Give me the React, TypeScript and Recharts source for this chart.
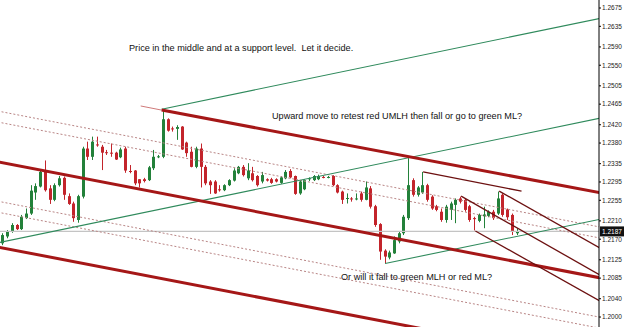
import { ComposedChart, Bar, XAxis, YAxis, ReferenceLine } from 'recharts'

// EURUSD-style candles (oldest first)
const opens = [
  1.2161, 1.2176, 1.2186, 1.2201, 1.2192, 1.2216, 1.2226, 1.2272, 1.2285, 1.2319,
  1.2281, 1.2256, 1.2288, 1.2304, 1.2264, 1.2248, 1.2212, 1.2263, 1.2368, 1.2350,
  1.2377, 1.2372, 1.2360, 1.2359, 1.2359, 1.2349, 1.2368, 1.2319, 1.2320, 1.2301,
  1.2301, 1.2299, 1.2325, 1.2350, 1.2350, 1.2432, 1.2412, 1.2411, 1.2416, 1.2381,
  1.2361, 1.2328, 1.2368, 1.2328, 1.2296, 1.2296, 1.2279, 1.2277, 1.2288, 1.2298,
  1.2314, 1.2328, 1.2303, 1.2314, 1.2308, 1.2296, 1.2301, 1.2301, 1.2301, 1.2293,
  1.2303, 1.2319, 1.2308, 1.2270, 1.2279, 1.2301, 1.2299, 1.2301, 1.2306, 1.2305,
  1.2308, 1.2288, 1.2274, 1.2259, 1.2259, 1.2258, 1.2270, 1.2256, 1.2281, 1.2242,
  1.2203, 1.2145, 1.2130, 1.2139, 1.2165, 1.2183, 1.2216, 1.2299, 1.2267, 1.2272,
  1.2288, 1.2263, 1.2242, 1.2230, 1.2212, 1.2234, 1.2245, 1.2259, 1.2256, 1.2242,
  1.2216, 1.2210, 1.2220, 1.2221, 1.2230, 1.2226, 1.2267, 1.2235, 1.2223, 1.2183,
]
const highs = [
  1.2183, 1.2190, 1.2205, 1.2203, 1.2223, 1.2237, 1.2288, 1.2292, 1.2321, 1.2342,
  1.2288, 1.2292, 1.2308, 1.2307, 1.2270, 1.2252, 1.2267, 1.2372, 1.2383, 1.2394,
  1.2394, 1.2376, 1.2365, 1.2379, 1.2361, 1.2370, 1.2372, 1.2332, 1.2321, 1.2301,
  1.2304, 1.2330, 1.2365, 1.2354, 1.2454, 1.2434, 1.2416, 1.2419, 1.2417, 1.2383,
  1.2372, 1.2372, 1.2379, 1.2332, 1.2299, 1.2299, 1.2288, 1.2290, 1.2301, 1.2325,
  1.2330, 1.2332, 1.2336, 1.2328, 1.2310, 1.2317, 1.2303, 1.2304, 1.2303, 1.2308,
  1.2321, 1.2323, 1.2309, 1.2299, 1.2301, 1.2305, 1.2310, 1.2311, 1.2308, 1.2308,
  1.2310, 1.2290, 1.2276, 1.2270, 1.2262, 1.2270, 1.2274, 1.2296, 1.2286, 1.2245,
  1.2205, 1.2148, 1.2145, 1.2176, 1.2186, 1.2223, 1.2347, 1.2303, 1.2286, 1.2317,
  1.2291, 1.2266, 1.2245, 1.2237, 1.2245, 1.2252, 1.2259, 1.2263, 1.2259, 1.2245,
  1.2219, 1.2226, 1.2241, 1.2233, 1.2234, 1.2274, 1.2270, 1.2237, 1.2226, 1.2194,
]
const lows = [
  1.2157, 1.2172, 1.2184, 1.2190, 1.2190, 1.2214, 1.2223, 1.2256, 1.2283, 1.2274,
  1.2247, 1.2253, 1.2285, 1.2256, 1.2245, 1.2208, 1.2206, 1.2259, 1.2343, 1.2343,
  1.2372, 1.2321, 1.2354, 1.2350, 1.2343, 1.2347, 1.2315, 1.2314, 1.2288, 1.2283,
  1.2294, 1.2297, 1.2321, 1.2347, 1.2347, 1.2405, 1.2405, 1.2387, 1.2365, 1.2350,
  1.2327, 1.2325, 1.2283, 1.2288, 1.2269, 1.2269, 1.2274, 1.2275, 1.2286, 1.2296,
  1.2312, 1.2307, 1.2299, 1.2296, 1.2285, 1.2292, 1.2296, 1.2291, 1.2294, 1.2291,
  1.2301, 1.2303, 1.2267, 1.2267, 1.2277, 1.2297, 1.2297, 1.2299, 1.2303, 1.2303,
  1.2286, 1.2270, 1.2247, 1.2248, 1.2252, 1.2255, 1.2252, 1.2255, 1.2237, 1.2197,
  1.2125, 1.2117, 1.2126, 1.2138, 1.2161, 1.2179, 1.2212, 1.2263, 1.2263, 1.2269,
  1.2252, 1.2234, 1.2231, 1.2208, 1.2206, 1.2212, 1.2205, 1.2248, 1.2230, 1.2208,
  1.2189, 1.2207, 1.2194, 1.2218, 1.2212, 1.2223, 1.2219, 1.2212, 1.2179, 1.2179,
]
const closes = [
  1.2179, 1.2186, 1.2201, 1.2192, 1.2219, 1.2226, 1.2276, 1.2286, 1.2317, 1.2277,
  1.2256, 1.2288, 1.2303, 1.2267, 1.2247, 1.2216, 1.2264, 1.2368, 1.2350, 1.2383,
  1.2375, 1.2359, 1.2358, 1.2358, 1.2344, 1.2366, 1.2320, 1.2318, 1.2292, 1.2292,
  1.2297, 1.2327, 1.2350, 1.2351, 1.2432, 1.2407, 1.2411, 1.2415, 1.2366, 1.2358,
  1.2328, 1.2368, 1.2328, 1.2292, 1.2288, 1.2270, 1.2278, 1.2288, 1.2299, 1.2320,
  1.2328, 1.2310, 1.2320, 1.2299, 1.2288, 1.2310, 1.2298, 1.2293, 1.2296, 1.2305,
  1.2317, 1.2305, 1.2269, 1.2296, 1.2299, 1.2303, 1.2308, 1.2308, 1.2305, 1.2306,
  1.2288, 1.2272, 1.2256, 1.2260, 1.2258, 1.2259, 1.2256, 1.2283, 1.2241, 1.2201,
  1.2143, 1.2132, 1.2141, 1.2168, 1.2183, 1.2219, 1.2288, 1.2267, 1.2283, 1.2288,
  1.2256, 1.2237, 1.2234, 1.2212, 1.2241, 1.2248, 1.2256, 1.2252, 1.2234, 1.2212,
  1.2215, 1.2223, 1.2224, 1.2230, 1.2216, 1.2259, 1.2223, 1.2218, 1.2186, 1.2187,
]

const priceTicks = [
  1.2, 1.204, 1.2085, 1.2125, 1.217, 1.221, 1.2255, 1.2295, 1.2335,
  1.238, 1.242, 1.2465, 1.2505, 1.255, 1.259, 1.2635, 1.2675,
]
const lastPrice = 1.2187

// pitchfork / channel lines: [barIndex, price] -> [barIndex, price]
const greenLines = [
  [34, 1.2454, 126.5, 1.2653],
  [-0.5, 1.2162, 126.5, 1.2435],
  [81, 1.2117, 126.5, 1.2214],
]
const redLines = [
  [34, 1.2452, 126.5, 1.2271],
  [-0.5, 1.2339, 126.5, 1.2085],
  [-0.5, 1.2153, 126.5, 1.1899],
]
const handleLines = [[29.6, 1.2461, 34, 1.2452]]
const dashedLines = [
  [-0.5, 1.2450, 126.5, 1.2196],
  [-0.5, 1.2426, 126.5, 1.2172],
  [-0.5, 1.2253, 126.5, 1.1999],
  [-0.5, 1.2229, 126.5, 1.1975],
]
const maroonLines = [
  [89, 1.2317, 109.7, 1.2275],
  [97, 1.2264, 126.5, 1.2090],
  [105, 1.2275, 126.5, 1.2149],
  [100, 1.2188, 126.5, 1.2033],
]

const SLOTS = 127
const GREEN = '#23813a'
const RED = '#c3242b'

const data = Array.from({ length: SLOTS }, (_, i) =>
  i < opens.length
    ? { i, open: opens[i], high: highs[i], low: lows[i], close: closes[i] }
    : { i }
)

function Candle(props: any) {
  const { x, y, width, height, payload } = props
  if (!payload || payload.high == null || !height) return null
  const { open, close, high, low } = payload
  const k = height / (high - low)
  const cx = Math.round(x + width / 2) + 0.5
  const color = close >= open ? GREEN : RED
  const top = y + (high - Math.max(open, close)) * k
  const h = Math.max(1, Math.abs(open - close) * k)
  return (
    <g>
      <line x1={cx} x2={cx} y1={y} y2={y + height} stroke={color} strokeWidth={1} />
      <rect x={cx - 1.5} y={top} width={3} height={h} fill={color} />
    </g>
  )
}

function PriceTag(props: any) {
  const { viewBox } = props
  const x = viewBox.x + viewBox.width + 1
  const y = viewBox.y
  return (
    <g>
      <rect x={x} y={y - 5} width={24} height={10} fill="#111" />
      <text x={x + 2} y={y + 3} fontSize={6.5} fill="#fff" fontFamily="Arial, 'Liberation Sans'">
        {lastPrice.toFixed(4)}
      </text>
    </g>
  )
}

function seg(l: number[], key: string, stroke: string, width: number, dash?: string) {
  return (
    <ReferenceLine
      key={key}
      xAxisId="n"
      segment={[{ x: l[0], y: l[1] }, { x: l[2], y: l[3] }]}
      stroke={stroke}
      strokeWidth={width}
      strokeDasharray={dash}
      ifOverflow="hidden"
    />
  )
}

const note = {
  position: 'absolute' as const,
  fontSize: 9.15,
  lineHeight: '10px',
  color: '#111',
  whiteSpace: 'pre' as const,
  fontFamily: 'Arial, "Liberation Sans", sans-serif',
}

export default function App() {
  return (
    <div style={{ position: 'absolute', left: 0, top: 0, width: 625, height: 327, background: '#fff' }}>
      <ComposedChart width={625} height={327} data={data} margin={{ top: 0, right: 0, bottom: 0, left: 0 }}>
        <XAxis dataKey="i" hide />
        <XAxis xAxisId="n" type="number" domain={[-0.5, 126.5]} hide allowDataOverflow />
        <YAxis
          orientation="right"
          width={26}
          domain={[1.19782, 1.26925]}
          ticks={priceTicks}
          interval={0}
          allowDataOverflow
          tickFormatter={(v: number) => v.toFixed(4)}
          tick={{ fontSize: 6.5, fill: '#222', fontFamily: 'Arial, "Liberation Sans"' }}
          tickSize={2}
          tickMargin={1}
          axisLine={{ stroke: '#000' }}
          tickLine={{ stroke: '#000' }}
        />
        <ReferenceLine y={lastPrice} stroke="#c4c4c4" strokeWidth={1.2} label={<PriceTag />} />
        {dashedLines.map((l, k) => seg(l, 'd' + k, '#b98585', 1, '2 2'))}
        {greenLines.map((l, k) => seg(l, 'g' + k, '#2f8a5c', 1.1))}
        {handleLines.map((l, k) => seg(l, 'h' + k, '#d07a7a', 1))}
        {redLines.map((l, k) => seg(l, 'r' + k, '#a51717', 3))}
        {maroonLines.map((l, k) => seg(l, 'm' + k, '#6c1010', 1.3))}
        <Bar
          dataKey={(d: any) => (d.high == null ? null : [d.low, d.high])}
          shape={<Candle />}
          isAnimationActive={false}
        />
      </ComposedChart>
      <div style={{ ...note, left: 129, top: 43 }}>Price in the middle and at a support level.  Let it decide.</div>
      <div style={{ ...note, left: 272, top: 111 }}>Upward move to retest red UMLH then fall or go to green ML?</div>
      <div style={{ ...note, left: 341, top: 272 }}>Or will it fall to green MLH or red ML?</div>
    </div>
  )
}
